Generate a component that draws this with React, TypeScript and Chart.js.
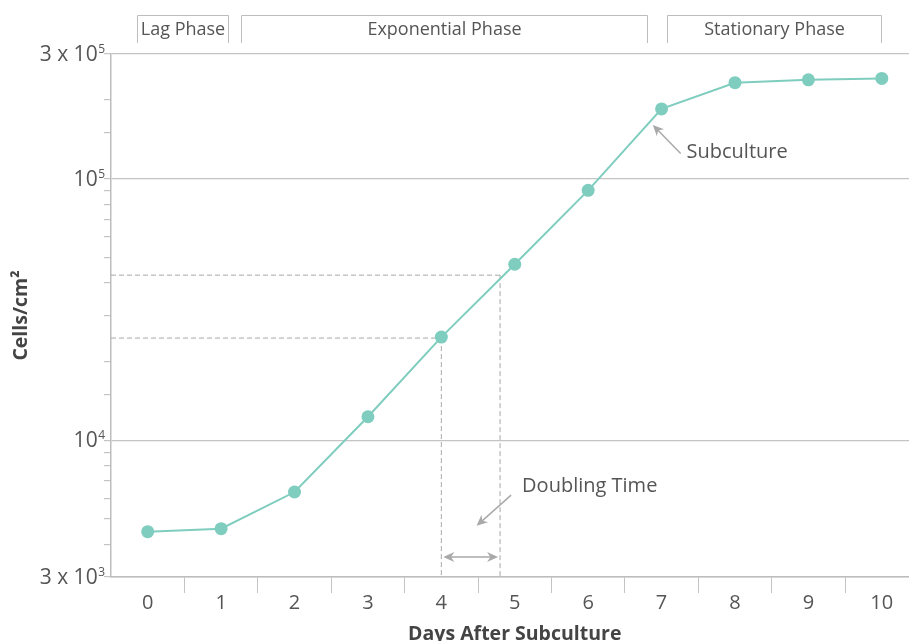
import React, { useEffect, useRef } from 'react';
import { Chart, registerables } from 'chart.js';

Chart.register(...registerables);

// ---- data ----
const days = ['0', '1', '2', '3', '4', '5', '6', '7', '8', '9', '10'];
const cellsPerCm2 = [4470, 4590, 6340, 12300, 24800, 47100, 90300, 185000, 233000, 239000, 242000];

const yMin = 3000;
const yMax = 300000;
const yMajorTicks = [3000, 10000, 100000, 300000];
const yMajorBase = ['3 x 10', '10', '10', '3 x 10'];
const yMajorExp = ['3', '4', '5', '5'];

const phaseLabels = ['Lag Phase', 'Exponential Phase', 'Stationary Phase'];
const phaseStartDay = [-0.15, 1.265, 7.08];
const phaseEndDay = [1.1, 6.8, 9.99];

// doubling-time construction (data units)
const doublingDays = [4.0, 4.8];
const doublingValues = [24600, 42800];
const doublingArrowValue = 3580;
const doublingLabel = 'Doubling Time';
const doublingLabelPos = [5.1, 6680];
const doublingPointerFrom = [4.95, 6170];
const doublingPointerTo = [4.48, 4707];

const subcultureLabel = 'Subculture';
const subcultureLabelPos = [7.34, 126500];
const subculturePointerFrom = [7.26, 125000];
const subculturePointerTo = [6.88, 160600];

const xTitle = 'Days After Subculture';
const yTitle = 'Cells/cm²';

const FONT = "'Open Sans', 'DejaVu Sans', sans-serif";
const TEXT = '#555555';
const GRID = '#c4c4c4';
const TEAL = '#7fcdbf';
const ANNO = '#a9a9a9';

function isMajor(v: number) {
  return yMajorTicks.some((m) => Math.abs(v / m - 1) < 1e-6);
}

function arrowHead(ctx: CanvasRenderingContext2D, x0: number, y0: number, x1: number, y1: number, len = 11, half = 5) {
  const a = Math.atan2(y1 - y0, x1 - x0);
  const ca = Math.cos(a), sa = Math.sin(a);
  const bx = x1 - ca * len, by = y1 - sa * len;
  const nx = x1 - ca * len * 0.7, ny = y1 - sa * len * 0.7;
  ctx.beginPath();
  ctx.moveTo(x1, y1);
  ctx.lineTo(bx - sa * half, by + ca * half);
  ctx.lineTo(nx, ny);
  ctx.lineTo(bx + sa * half, by - ca * half);
  ctx.closePath();
  ctx.fill();
}

function arrow(ctx: CanvasRenderingContext2D, x0: number, y0: number, x1: number, y1: number) {
  const a = Math.atan2(y1 - y0, x1 - x0);
  ctx.beginPath();
  ctx.moveTo(x0, y0);
  ctx.lineTo(x1 - Math.cos(a) * 6, y1 - Math.sin(a) * 6);
  ctx.stroke();
  arrowHead(ctx, x0, y0, x1, y1);
}

const annotationPlugin = {
  id: 'growthAnnotations',
  beforeDatasetsDraw(chart: any) {
    const { ctx, scales, chartArea } = chart;
    const xs = scales.x, ys = scales.y;
    ctx.save();
    ctx.strokeStyle = ANNO;
    ctx.lineWidth = 1;
    ctx.setLineDash([5, 3]);
    for (let i = 0; i < doublingDays.length; i++) {
      const px = xs.getPixelForValue(doublingDays[i]);
      const py = ys.getPixelForValue(doublingValues[i]);
      ctx.beginPath();
      ctx.moveTo(chartArea.left, py);
      ctx.lineTo(px, py);
      ctx.moveTo(px, py);
      ctx.lineTo(px, chartArea.bottom);
      ctx.stroke();
    }
    ctx.restore();
  },
  afterDraw(chart: any) {
    const { ctx, scales, chartArea } = chart;
    const xs = scales.x, ys = scales.y;
    const X = (v: number) => xs.getPixelForValue(v);
    const Y = (v: number) => ys.getPixelForValue(v);
    ctx.save();

    // y tick labels with superscript exponents
    ctx.fillStyle = TEXT;
    ctx.textAlign = 'right';
    for (let i = 0; i < yMajorTicks.length; i++) {
      const py = Y(yMajorTicks[i]);
      const right = chartArea.left - 6;
      ctx.font = `12px ${FONT}`;
      ctx.textBaseline = 'alphabetic';
      const ew = ctx.measureText(yMajorExp[i]).width;
      ctx.fillText(yMajorExp[i], right, py - 1);
      ctx.font = `21px ${FONT}`;
      ctx.textBaseline = 'middle';
      ctx.fillText(yMajorBase[i], right - ew - 0.5, py + 1);
    }

    // phase brackets
    ctx.strokeStyle = '#bdbdbd';
    ctx.lineWidth = 1;
    ctx.font = `18px ${FONT}`;
    ctx.fillStyle = TEXT;
    ctx.textAlign = 'center';
    ctx.textBaseline = 'middle';
    for (let i = 0; i < phaseLabels.length; i++) {
      const x0 = Math.round(X(phaseStartDay[i])) + 0.5;
      const x1 = Math.round(X(phaseEndDay[i])) + 0.5;
      ctx.beginPath();
      ctx.moveTo(x0, 43);
      ctx.lineTo(x0, 15.5);
      ctx.lineTo(x1, 15.5);
      ctx.lineTo(x1, 43);
      ctx.stroke();
      ctx.fillText(phaseLabels[i], (x0 + x1) / 2, 30);
    }

    // doubling arrow (double-headed)
    ctx.strokeStyle = ANNO;
    ctx.fillStyle = ANNO;
    ctx.lineWidth = 1.5;
    const ax0 = X(doublingDays[0]) + 2;
    const ax1 = X(doublingDays[1]) - 2;
    const ay = Y(doublingArrowValue);
    ctx.beginPath();
    ctx.moveTo(ax0 + 6, ay);
    ctx.lineTo(ax1 - 6, ay);
    ctx.stroke();
    arrowHead(ctx, ax1, ay, ax0, ay);
    arrowHead(ctx, ax0, ay, ax1, ay);

    // pointers
    arrow(ctx, X(doublingPointerFrom[0]), Y(doublingPointerFrom[1]), X(doublingPointerTo[0]), Y(doublingPointerTo[1]));
    arrow(ctx, X(subculturePointerFrom[0]), Y(subculturePointerFrom[1]), X(subculturePointerTo[0]), Y(subculturePointerTo[1]));

    // labels
    ctx.fillStyle = TEXT;
    ctx.font = `20px ${FONT}`;
    ctx.textAlign = 'left';
    ctx.textBaseline = 'middle';
    ctx.fillText(doublingLabel, X(doublingLabelPos[0]), Y(doublingLabelPos[1]));
    ctx.fillText(subcultureLabel, X(subcultureLabelPos[0]), Y(subcultureLabelPos[1]));

    // axis titles
    ctx.fillStyle = '#444444';
    ctx.font = `bold 19.5px ${FONT}`;
    ctx.textAlign = 'center';
    ctx.textBaseline = 'alphabetic';
    ctx.fillText(xTitle, (chartArea.left + chartArea.right) / 2, 640);
    ctx.save();
    ctx.translate(27, (chartArea.top + chartArea.bottom) / 2);
    ctx.rotate(-Math.PI / 2);
    ctx.fillText(yTitle, 0, 0);
    ctx.restore();

    ctx.restore();
  },
};

export default function App() {
  const ref = useRef<HTMLCanvasElement | null>(null);
  useEffect(() => {
    if (!ref.current) return;
    const chart = new Chart(ref.current, {
      type: 'line',
      data: {
        labels: days,
        datasets: [
          {
            data: cellsPerCm2,
            borderColor: TEAL,
            backgroundColor: TEAL,
            borderWidth: 2,
            pointRadius: 6.5,
            pointBorderWidth: 0,
            pointBackgroundColor: TEAL,
            tension: 0,
          },
        ],
      },
      options: {
        responsive: false,
        animation: false,
        devicePixelRatio: 1,
        layout: { padding: { left: 0, top: 54, right: 4, bottom: 0 } },
        plugins: { legend: { display: false }, tooltip: { enabled: false }, title: { display: false } },
        scales: {
          x: {
            type: 'category',
            offset: true,
            afterFit: (s: any) => { s.height = 64; },
            grid: {
              offset: true,
              drawOnChartArea: false,
              drawTicks: true,
              tickLength: 16,
              tickColor: (c: any) => (c.index === 0 ? 'rgba(0,0,0,0)' : '#c4c4c4'),
            },
            border: { color: '#bdbdbd', width: 1.5 },
            ticks: { color: TEXT, font: { family: FONT, size: 20 }, padding: -2, maxRotation: 0, autoSkip: false },
          },
          y: {
            type: 'logarithmic',
            min: yMin,
            max: yMax,
            afterFit: (s: any) => { s.width = 111; },
            grid: {
              color: (c: any) => (c.tick && isMajor(c.tick.value) ? GRID : 'rgba(0,0,0,0)'),
              tickColor: '#c4c4c4',
              tickLength: 7,
              lineWidth: 1.2,
            },
            border: { color: '#bdbdbd', width: 1.5 },
            ticks: {
              autoSkip: false,
              color: TEXT,
              padding: 1,
              font: { family: FONT, size: 20 },
              callback: () => '',
            },
          },
        },
      },
      plugins: [annotationPlugin],
    });
    return () => chart.destroy();
  }, []);

  return (
    <div style={{ position: 'fixed', left: 0, top: 0, width: 909, height: 641, overflow: 'hidden', background: '#fff' }}>
      <canvas ref={ref} width={925} height={641} style={{ width: 925, height: 641, display: 'block' }} />
    </div>
  );
}
